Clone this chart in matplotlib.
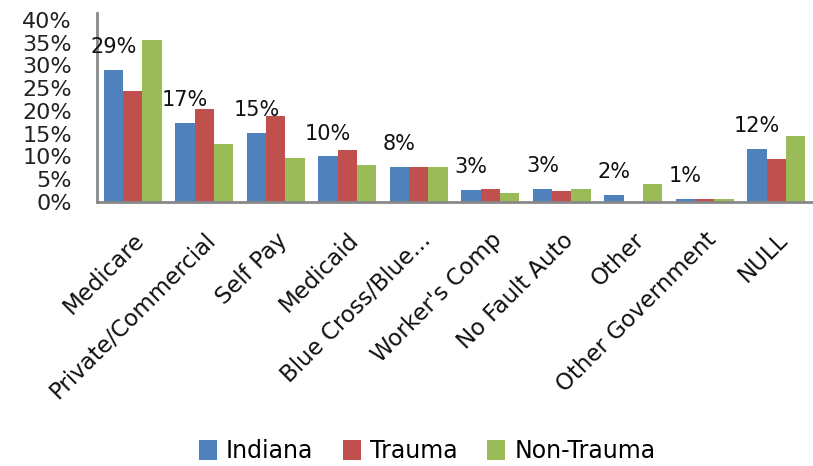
import numpy as np
import matplotlib
matplotlib.use("Agg")
import matplotlib.pyplot as plt
from matplotlib.ticker import PercentFormatter

categories = ["Medicare", "Private/Commercial", "Self Pay", "Medicaid",
              "Blue Cross/Blue...", "Worker's Comp", "No Fault Auto",
              "Other", "Other Government", "NULL"]
series_names = ["Indiana", "Trauma", "Non-Trauma"]
indiana = [29.0, 17.4, 15.2, 10.1, 7.7, 2.7, 2.9, 1.6, 0.7, 11.7]
trauma = [24.4, 20.4, 18.9, 11.4, 7.7, 2.9, 2.5, 0.0, 0.7, 9.5]
non_trauma = [35.6, 12.7, 9.7, 8.1, 7.7, 2.0, 2.9, 3.9, 0.6, 14.5]
colors = ["#4F81BD", "#C0504D", "#9BBB59"]

plt.rcParams["font.family"] = "DejaVu Sans"

fig = plt.figure(figsize=(8.13, 4.66), dpi=100)
ax = fig.add_axes([97 / 813, 1 - 202 / 466, 715 / 813, 189 / 466])

x = np.arange(len(categories))
w = 0.27
for i, (vals, name) in enumerate(zip([indiana, trauma, non_trauma], series_names)):
    ax.bar(x + (i - 1) * w, vals, w, color=colors[i], label=name)

# data labels for Indiana series
for xi, v in zip(x, indiana):
    ax.annotate(f"{v:.0f}%", (xi - w, v), xytext=(0, 9), textcoords="offset points",
                ha="center", va="bottom", fontsize=15, color="#111111")

ax.set_xlim(-0.5, len(categories) - 0.5)
ax.set_ylim(0, 41.5)
ax.set_yticks(np.arange(0, 41, 5))
ax.yaxis.set_major_formatter(PercentFormatter(decimals=0))
ax.set_xticks(x)
ax.set_xticklabels(categories, rotation=45, ha="right", rotation_mode="anchor", fontsize=16.5)
ax.tick_params(axis="y", length=0, pad=18, labelsize=16, labelcolor="#222222")
ax.tick_params(axis="x", length=0, pad=19, labelcolor="#111111")

for s in ["top", "right"]:
    ax.spines[s].set_visible(False)
for s in ["left", "bottom"]:
    ax.spines[s].set_color("#888888")
    ax.spines[s].set_linewidth(2)

fig.legend(loc="center", bbox_to_anchor=(427 / 813, 1 - 451 / 466), ncol=3, frameon=False,
           fontsize=17, handlelength=0.76, handleheight=0.95, handletextpad=0.38,
           columnspacing=1.27)

fig.savefig("out.png", dpi=100)
